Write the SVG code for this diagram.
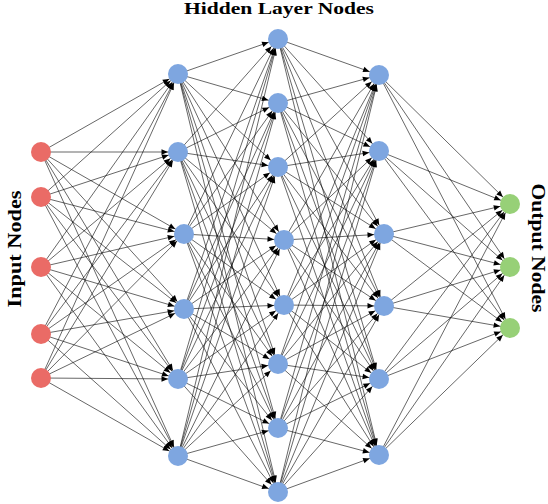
<svg xmlns="http://www.w3.org/2000/svg" width="548" height="504" viewBox="0 0 548 504">
<style>
.e line{stroke:#000;stroke-width:0.6;marker-end:url(#ah)}
.in{fill:#EA6B66}
.hd{fill:#7EA6E0}
.out{fill:#97D077}
.t{font-family:"Liberation Serif","Times New Roman",serif;font-weight:bold;fill:#000}
</style>
<defs>
<marker id="ah" markerUnits="userSpaceOnUse" markerWidth="8" markerHeight="6" refX="16.5" refY="2.75" orient="auto" overflow="visible">
<path d="M0,0 L6.5,2.75 L0,5.5 z" fill="#000"/>
</marker>
</defs>
<rect width="548" height="504" fill="#fff"/>
<g id="connectors" class="e">
<line x1="41" y1="152" x2="178" y2="74"/><line x1="41" y1="152" x2="178" y2="152"/><line x1="41" y1="152" x2="184" y2="234"/><line x1="41" y1="152" x2="184" y2="309"/><line x1="41" y1="152" x2="178" y2="379"/><line x1="41" y1="152" x2="178" y2="456"/>
<line x1="41" y1="197" x2="178" y2="74"/><line x1="41" y1="197" x2="178" y2="152"/><line x1="41" y1="197" x2="184" y2="234"/><line x1="41" y1="197" x2="184" y2="309"/><line x1="41" y1="197" x2="178" y2="379"/><line x1="41" y1="197" x2="178" y2="456"/>
<line x1="41" y1="267" x2="178" y2="74"/><line x1="41" y1="267" x2="178" y2="152"/><line x1="41" y1="267" x2="184" y2="234"/><line x1="41" y1="267" x2="184" y2="309"/><line x1="41" y1="267" x2="178" y2="379"/><line x1="41" y1="267" x2="178" y2="456"/>
<line x1="41" y1="334" x2="178" y2="74"/><line x1="41" y1="334" x2="178" y2="152"/><line x1="41" y1="334" x2="184" y2="234"/><line x1="41" y1="334" x2="184" y2="309"/><line x1="41" y1="334" x2="178" y2="379"/><line x1="41" y1="334" x2="178" y2="456"/>
<line x1="41" y1="378" x2="178" y2="74"/><line x1="41" y1="378" x2="178" y2="152"/><line x1="41" y1="378" x2="184" y2="234"/><line x1="41" y1="378" x2="184" y2="309"/><line x1="41" y1="378" x2="178" y2="379"/><line x1="41" y1="378" x2="178" y2="456"/>
<line x1="178" y1="74" x2="278" y2="39"/><line x1="178" y1="74" x2="278" y2="103"/><line x1="178" y1="74" x2="278" y2="167"/><line x1="178" y1="74" x2="284" y2="240"/><line x1="178" y1="74" x2="284" y2="305"/><line x1="178" y1="74" x2="278" y2="364"/><line x1="178" y1="74" x2="278" y2="428"/><line x1="178" y1="74" x2="278" y2="492"/>
<line x1="178" y1="152" x2="278" y2="39"/><line x1="178" y1="152" x2="278" y2="103"/><line x1="178" y1="152" x2="278" y2="167"/><line x1="178" y1="152" x2="284" y2="240"/><line x1="178" y1="152" x2="284" y2="305"/><line x1="178" y1="152" x2="278" y2="364"/><line x1="178" y1="152" x2="278" y2="428"/><line x1="178" y1="152" x2="278" y2="492"/>
<line x1="184" y1="234" x2="278" y2="39"/><line x1="184" y1="234" x2="278" y2="103"/><line x1="184" y1="234" x2="278" y2="167"/><line x1="184" y1="234" x2="284" y2="240"/><line x1="184" y1="234" x2="284" y2="305"/><line x1="184" y1="234" x2="278" y2="364"/><line x1="184" y1="234" x2="278" y2="428"/><line x1="184" y1="234" x2="278" y2="492"/>
<line x1="184" y1="309" x2="278" y2="39"/><line x1="184" y1="309" x2="278" y2="103"/><line x1="184" y1="309" x2="278" y2="167"/><line x1="184" y1="309" x2="284" y2="240"/><line x1="184" y1="309" x2="284" y2="305"/><line x1="184" y1="309" x2="278" y2="364"/><line x1="184" y1="309" x2="278" y2="428"/><line x1="184" y1="309" x2="278" y2="492"/>
<line x1="178" y1="379" x2="278" y2="39"/><line x1="178" y1="379" x2="278" y2="103"/><line x1="178" y1="379" x2="278" y2="167"/><line x1="178" y1="379" x2="284" y2="240"/><line x1="178" y1="379" x2="284" y2="305"/><line x1="178" y1="379" x2="278" y2="364"/><line x1="178" y1="379" x2="278" y2="428"/><line x1="178" y1="379" x2="278" y2="492"/>
<line x1="178" y1="456" x2="278" y2="39"/><line x1="178" y1="456" x2="278" y2="103"/><line x1="178" y1="456" x2="278" y2="167"/><line x1="178" y1="456" x2="284" y2="240"/><line x1="178" y1="456" x2="284" y2="305"/><line x1="178" y1="456" x2="278" y2="364"/><line x1="178" y1="456" x2="278" y2="428"/><line x1="178" y1="456" x2="278" y2="492"/>
<line x1="278" y1="39" x2="379" y2="75"/><line x1="278" y1="39" x2="379" y2="151"/><line x1="278" y1="39" x2="384" y2="234"/><line x1="278" y1="39" x2="384" y2="306"/><line x1="278" y1="39" x2="379" y2="379"/><line x1="278" y1="39" x2="379" y2="455"/>
<line x1="278" y1="103" x2="379" y2="75"/><line x1="278" y1="103" x2="379" y2="151"/><line x1="278" y1="103" x2="384" y2="234"/><line x1="278" y1="103" x2="384" y2="306"/><line x1="278" y1="103" x2="379" y2="379"/><line x1="278" y1="103" x2="379" y2="455"/>
<line x1="278" y1="167" x2="379" y2="75"/><line x1="278" y1="167" x2="379" y2="151"/><line x1="278" y1="167" x2="384" y2="234"/><line x1="278" y1="167" x2="384" y2="306"/><line x1="278" y1="167" x2="379" y2="379"/><line x1="278" y1="167" x2="379" y2="455"/>
<line x1="284" y1="240" x2="379" y2="75"/><line x1="284" y1="240" x2="379" y2="151"/><line x1="284" y1="240" x2="384" y2="234"/><line x1="284" y1="240" x2="384" y2="306"/><line x1="284" y1="240" x2="379" y2="379"/><line x1="284" y1="240" x2="379" y2="455"/>
<line x1="284" y1="305" x2="379" y2="75"/><line x1="284" y1="305" x2="379" y2="151"/><line x1="284" y1="305" x2="384" y2="234"/><line x1="284" y1="305" x2="384" y2="306"/><line x1="284" y1="305" x2="379" y2="379"/><line x1="284" y1="305" x2="379" y2="455"/>
<line x1="278" y1="364" x2="379" y2="75"/><line x1="278" y1="364" x2="379" y2="151"/><line x1="278" y1="364" x2="384" y2="234"/><line x1="278" y1="364" x2="384" y2="306"/><line x1="278" y1="364" x2="379" y2="379"/><line x1="278" y1="364" x2="379" y2="455"/>
<line x1="278" y1="428" x2="379" y2="75"/><line x1="278" y1="428" x2="379" y2="151"/><line x1="278" y1="428" x2="384" y2="234"/><line x1="278" y1="428" x2="384" y2="306"/><line x1="278" y1="428" x2="379" y2="379"/><line x1="278" y1="428" x2="379" y2="455"/>
<line x1="278" y1="492" x2="379" y2="75"/><line x1="278" y1="492" x2="379" y2="151"/><line x1="278" y1="492" x2="384" y2="234"/><line x1="278" y1="492" x2="384" y2="306"/><line x1="278" y1="492" x2="379" y2="379"/><line x1="278" y1="492" x2="379" y2="455"/>
<line x1="379" y1="75" x2="510" y2="204"/><line x1="379" y1="75" x2="510" y2="267"/><line x1="379" y1="75" x2="510" y2="328"/>
<line x1="379" y1="151" x2="510" y2="204"/><line x1="379" y1="151" x2="510" y2="267"/><line x1="379" y1="151" x2="510" y2="328"/>
<line x1="384" y1="234" x2="510" y2="204"/><line x1="384" y1="234" x2="510" y2="267"/><line x1="384" y1="234" x2="510" y2="328"/>
<line x1="384" y1="306" x2="510" y2="204"/><line x1="384" y1="306" x2="510" y2="267"/><line x1="384" y1="306" x2="510" y2="328"/>
<line x1="379" y1="379" x2="510" y2="204"/><line x1="379" y1="379" x2="510" y2="267"/><line x1="379" y1="379" x2="510" y2="328"/>
<line x1="379" y1="455" x2="510" y2="204"/><line x1="379" y1="455" x2="510" y2="267"/><line x1="379" y1="455" x2="510" y2="328"/>
</g>
<g id="input-1"><circle class="in" cx="41" cy="152" r="10"/></g>
<g id="input-2"><circle class="in" cx="41" cy="197" r="10"/></g>
<g id="input-3"><circle class="in" cx="41" cy="267" r="10"/></g>
<g id="input-4"><circle class="in" cx="41" cy="334" r="10"/></g>
<g id="input-5"><circle class="in" cx="41" cy="378" r="10"/></g>
<g id="h1-1"><circle class="hd" cx="178" cy="74" r="10"/></g>
<g id="h1-2"><circle class="hd" cx="178" cy="152" r="10"/></g>
<g id="h1-3"><circle class="hd" cx="184" cy="234" r="10"/></g>
<g id="h1-4"><circle class="hd" cx="184" cy="309" r="10"/></g>
<g id="h1-5"><circle class="hd" cx="178" cy="379" r="10"/></g>
<g id="h1-6"><circle class="hd" cx="178" cy="456" r="10"/></g>
<g id="h2-1"><circle class="hd" cx="278" cy="39" r="10"/></g>
<g id="h2-2"><circle class="hd" cx="278" cy="103" r="10"/></g>
<g id="h2-3"><circle class="hd" cx="278" cy="167" r="10"/></g>
<g id="h2-4"><circle class="hd" cx="284" cy="240" r="10"/></g>
<g id="h2-5"><circle class="hd" cx="284" cy="305" r="10"/></g>
<g id="h2-6"><circle class="hd" cx="278" cy="364" r="10"/></g>
<g id="h2-7"><circle class="hd" cx="278" cy="428" r="10"/></g>
<g id="h2-8"><circle class="hd" cx="278" cy="492" r="10"/></g>
<g id="h3-1"><circle class="hd" cx="379" cy="75" r="10"/></g>
<g id="h3-2"><circle class="hd" cx="379" cy="151" r="10"/></g>
<g id="h3-3"><circle class="hd" cx="384" cy="234" r="10"/></g>
<g id="h3-4"><circle class="hd" cx="384" cy="306" r="10"/></g>
<g id="h3-5"><circle class="hd" cx="379" cy="379" r="10"/></g>
<g id="h3-6"><circle class="hd" cx="379" cy="455" r="10"/></g>
<g id="output-1"><circle class="out" cx="510" cy="204" r="10"/></g>
<g id="output-2"><circle class="out" cx="510" cy="267" r="10"/></g>
<g id="output-3"><circle class="out" cx="510" cy="328" r="10"/></g>
<g id="labels">
<text class="t" x="279" y="14" font-size="17" text-anchor="middle" textLength="190" lengthAdjust="spacingAndGlyphs">Hidden Layer Nodes</text>
<text class="t" transform="translate(21,249) rotate(-90)" font-size="19" text-anchor="middle" textLength="117" lengthAdjust="spacingAndGlyphs">Input Nodes</text>
<text class="t" transform="translate(532,248) rotate(90)" font-size="19" text-anchor="middle" textLength="129" lengthAdjust="spacingAndGlyphs">Output Nodes</text>
</g>
</svg>
